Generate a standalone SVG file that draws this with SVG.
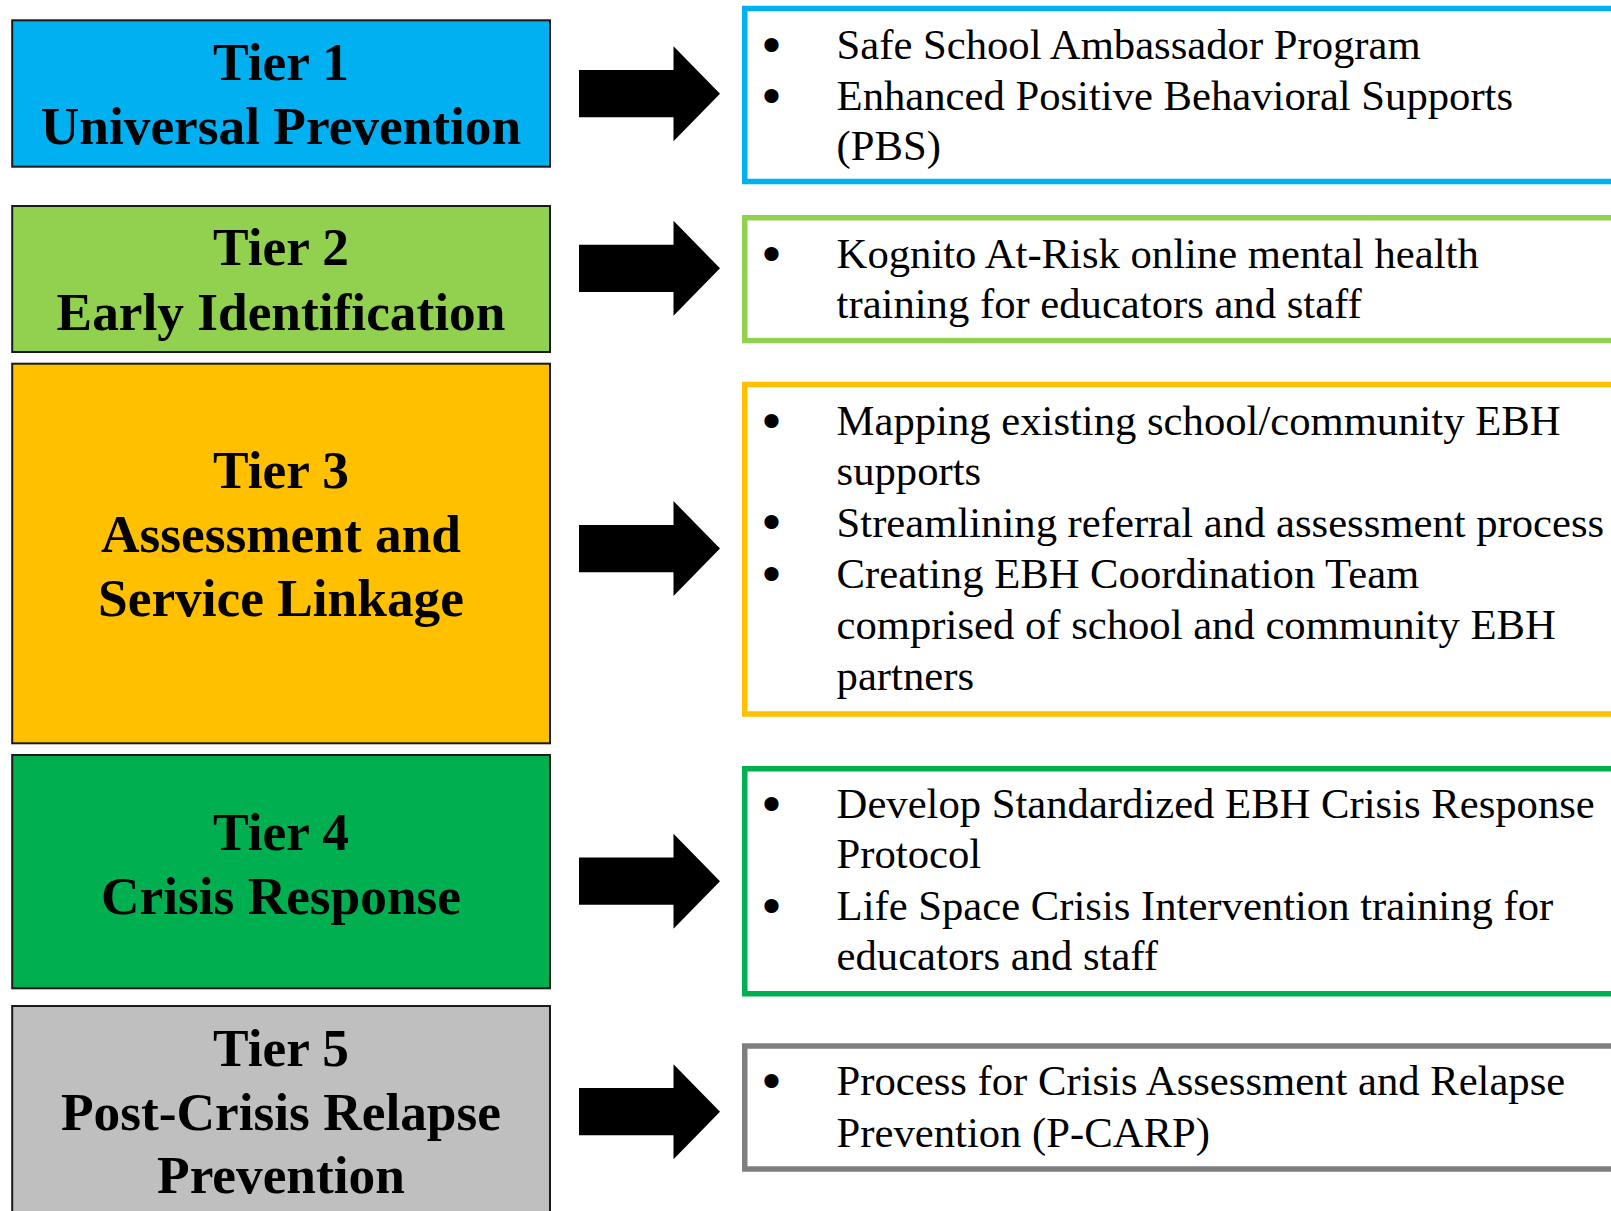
<svg xmlns="http://www.w3.org/2000/svg" xmlns:xlink="http://www.w3.org/1999/xlink" width="1611" height="1211" viewBox="0 0 1611 1211">
<style>
.tier{stroke:#1a1a1a;stroke-width:2}
.title{font-family:"Liberation Serif","Times New Roman",serif;font-weight:bold;font-size:53.33px;fill:#000;text-anchor:middle}
.box{fill:#fff;stroke-width:5.5}
.item{font-family:"Liberation Serif","Times New Roman",serif;font-size:42.67px;fill:#000}
.bul{font-family:"Liberation Serif","Times New Roman",serif;font-size:42.67px;fill:#000;stroke:#000;stroke-width:4;stroke-linejoin:round}
.arrow{fill:#000}
</style>
<defs>
<path id="arr" d="M0,-23.6 H94.5 V-47.5 L141,0 L94.5,47.5 V23.6 H0 Z"/>
</defs>
<rect width="1611" height="1211" fill="#fff"/>

<g id="tier1">
<rect class="tier" x="12.2" y="20.3" width="537.8" height="146.4" fill="#00B0F0"/>
<text class="title" x="281" y="80">Tier 1</text>
<text class="title" x="281" y="144">Universal Prevention</text>
</g>
<g id="tier2">
<rect class="tier" x="12.2" y="206" width="537.8" height="146" fill="#92D050"/>
<text class="title" x="281" y="265">Tier 2</text>
<text class="title" x="281" y="330">Early Identification</text>
</g>
<g id="tier3">
<rect class="tier" x="12.2" y="363.7" width="537.8" height="379.6" fill="#FFC000"/>
<text class="title" x="281" y="487.7">Tier 3</text>
<text class="title" x="281" y="551.7">Assessment and</text>
<text class="title" x="281" y="616">Service Linkage</text>
</g>
<g id="tier4">
<rect class="tier" x="12.2" y="755" width="537.8" height="233.3" fill="#00B050"/>
<text class="title" x="281" y="850">Tier 4</text>
<text class="title" x="281" y="914">Crisis Response</text>
</g>
<g id="tier5">
<rect class="tier" x="12.2" y="1006" width="537.8" height="300" fill="#BFBFBF"/>
<text class="title" x="281" y="1065.7">Tier 5</text>
<text class="title" x="281" y="1130">Post-Crisis Relapse</text>
<text class="title" x="281" y="1193.3">Prevention</text>
</g>

<g id="connectors">
<use xlink:href="#arr" href="#arr" class="arrow" x="579" y="93.7"/>
<use xlink:href="#arr" href="#arr" class="arrow" x="579" y="268.3"/>
<use xlink:href="#arr" href="#arr" class="arrow" x="579" y="548.6"/>
<use xlink:href="#arr" href="#arr" class="arrow" x="579" y="881.2"/>
<use xlink:href="#arr" href="#arr" class="arrow" x="579" y="1111.7"/>
</g>

<g id="actions1">
<rect class="box" x="744.75" y="8.5" width="1000" height="173" stroke="#00B0F0"/>
<text class="bul" x="764" y="58.8">•</text>
<text class="item" x="836.6" y="59.3">Safe School Ambassador Program</text>
<text class="bul" x="764" y="109.5">•</text>
<text class="item" x="836.6" y="110">Enhanced Positive Behavioral Supports</text>
<text class="item" x="836.6" y="160">(PBS)</text>
</g>
<g id="actions2">
<rect class="box" x="744.75" y="217.75" width="1000" height="122.8" stroke="#92D050"/>
<text class="bul" x="764" y="267.8">•</text>
<text class="item" x="836.6" y="268.3">Kognito At-Risk online mental health</text>
<text class="item" x="836.6" y="318.3">training for educators and staff</text>
</g>
<g id="actions3">
<rect class="box" x="744.75" y="384.5" width="1000" height="329.5" stroke="#FFC000"/>
<text class="bul" x="764" y="434.5">•</text>
<text class="item" x="836.6" y="435">Mapping existing school/community EBH</text>
<text class="item" x="836.6" y="485">supports</text>
<text class="bul" x="764" y="536.2">•</text>
<text class="item" x="836.6" y="536.7">Streamlining referral and assessment process</text>
<text class="bul" x="764" y="587.8">•</text>
<text class="item" x="836.6" y="588.3">Creating EBH Coordination Team</text>
<text class="item" x="836.6" y="639.3">comprised of school and community EBH</text>
<text class="item" x="836.6" y="690">partners</text>
</g>
<g id="actions4">
<rect class="box" x="744.75" y="768.75" width="1000" height="225" stroke="#00B050"/>
<text class="bul" x="764" y="817.8">•</text>
<text class="item" x="836.6" y="818.3">Develop Standardized EBH Crisis Response</text>
<text class="item" x="836.6" y="868.3">Protocol</text>
<text class="bul" x="764" y="919.5">•</text>
<text class="item" x="836.6" y="920">Life Space Crisis Intervention training for</text>
<text class="item" x="836.6" y="970">educators and staff</text>
</g>
<g id="actions5">
<rect class="box" x="744.75" y="1046" width="1000" height="123" stroke="#7F7F7F"/>
<text class="bul" x="764" y="1094.5">•</text>
<text class="item" x="836.6" y="1095">Process for Crisis Assessment and Relapse</text>
<text class="item" x="836.6" y="1146.7">Prevention (P-CARP)</text>
</g>
</svg>
